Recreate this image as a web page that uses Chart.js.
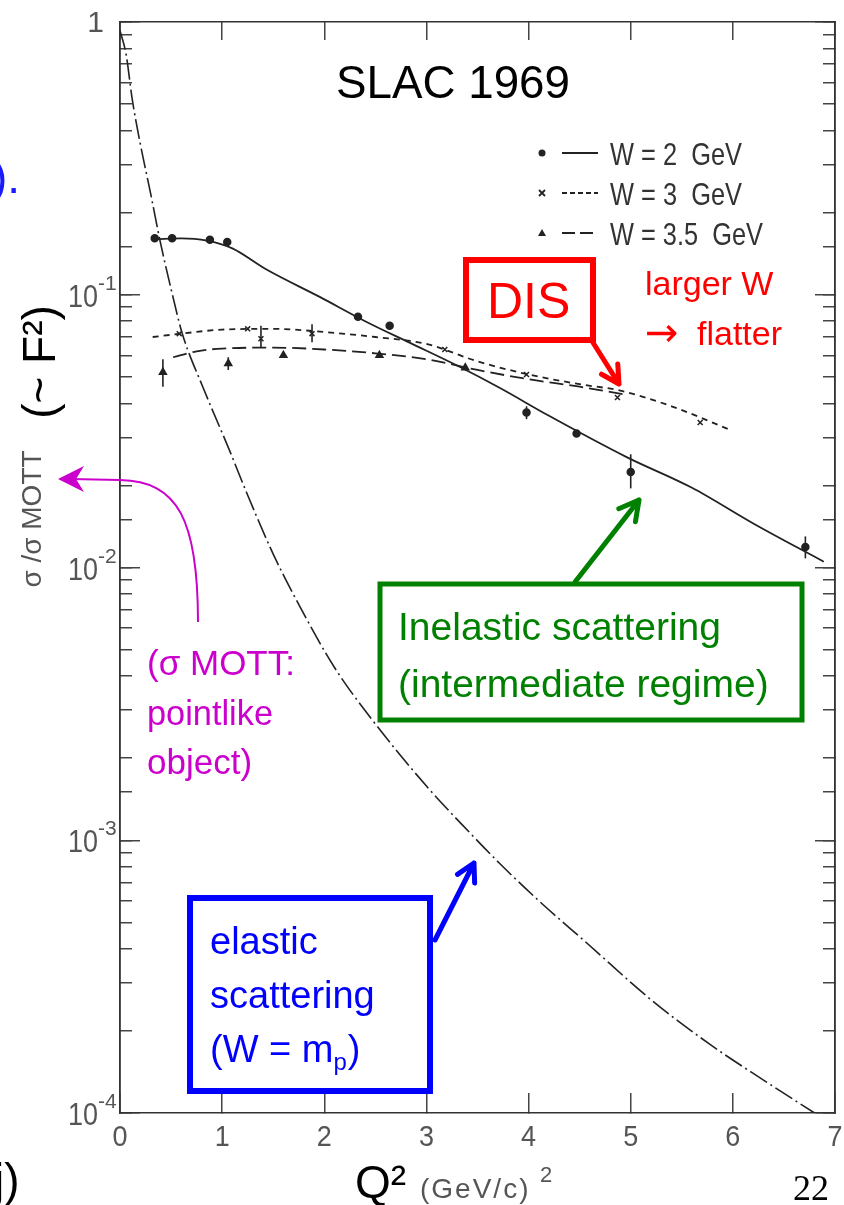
<!DOCTYPE html>
<html>
<head>
<meta charset="utf-8">
<script src="https://cdn.jsdelivr.net/npm/chart.js@4.4.1/dist/chart.umd.min.js"></script>
<style>
  html, body { margin: 0; padding: 0; background: #fff; }
  #wrap { width: 844px; height: 1205px; }
</style>
</head>
<body>
<div id="wrap"><canvas id="c" width="844" height="1205"></canvas></div>
<script>
// elastic e-p scattering (dash-dot curve)
const elasticQ2 = [0.0, 0.06, 0.12, 0.2, 0.3, 0.39, 0.5, 0.61, 0.81, 1.07, 1.24, 1.5, 1.76, 2.1, 2.47, 3.0, 3.42, 3.72, 4.1, 4.57, 5.2, 5.78, 6.3, 6.8];
const elasticRatio = [0.93, 0.76, 0.52, 0.355, 0.235, 0.159, 0.105, 0.072, 0.046, 0.027, 0.0188, 0.0112, 0.0072, 0.0043, 0.00276, 0.00158, 0.00107, 0.00082, 0.0006, 0.00042, 0.00026, 0.000178, 0.000132, 0.0001];

// W = 2 GeV
const w2CurveQ2 = [0.35, 0.6, 0.85, 1.1, 1.43, 1.96, 2.4, 2.84, 3.3, 3.72, 4.2, 4.96, 5.6, 6.2, 6.89];
const w2CurveRatio = [0.160, 0.161, 0.158, 0.148, 0.124, 0.098, 0.080, 0.0666, 0.055, 0.0455, 0.036, 0.0254, 0.0196, 0.0145, 0.0105];
const w2PointQ2 = [0.34, 0.51, 0.88, 1.05, 2.33, 2.64, 3.98, 4.47, 5.0, 6.71];
const w2PointRatio = [0.161, 0.161, 0.159, 0.156, 0.083, 0.077, 0.037, 0.031, 0.0224, 0.0119];

// W = 3 GeV
const w3CurveQ2 = [0.32, 0.6, 1.0, 1.5, 2.0, 2.5, 3.0, 3.5, 4.0, 4.5, 4.9, 5.4, 5.97];
const w3CurveRatio = [0.070, 0.072, 0.0745, 0.075, 0.073, 0.070, 0.066, 0.057, 0.051, 0.047, 0.0445, 0.039, 0.032];
const w3PointQ2 = [0.58, 1.25, 1.38, 1.88, 3.18, 3.98, 4.87, 5.68];
const w3PointRatio = [0.072, 0.075, 0.069, 0.072, 0.063, 0.051, 0.042, 0.034];

// W = 3.5 GeV
const w35CurveQ2 = [0.52, 0.75, 1.0, 1.5, 2.0, 2.5, 3.0, 3.5, 4.0, 4.5, 4.95];
const w35CurveRatio = [0.059, 0.062, 0.0635, 0.064, 0.063, 0.061, 0.058, 0.053, 0.049, 0.046, 0.043];
const w35PointQ2 = [0.42, 1.06, 1.6, 2.54, 3.38];
const w35PointRatio = [0.052, 0.056, 0.060, 0.060, 0.054];

// error bars
const errQ2 = [0.42, 1.06, 1.38, 1.88, 3.98, 5.0, 6.71];
const errLow = [0.046, 0.053, 0.064, 0.067, 0.035, 0.0195, 0.0108];
const errHigh = [0.058, 0.059, 0.077, 0.078, 0.039, 0.026, 0.013];

const xTickValues = [0, 1, 2, 3, 4, 5, 6, 7];
const legendLabels = ['W = 2  GeV', 'W = 3  GeV', 'W = 3.5  GeV'];

const pts = (xs, ys) => xs.map((x, i) => ({ x, y: ys[i] }));
const isDecade = (v) => { const l = Math.log10(v); return Math.abs(l - Math.round(l)) < 1e-6; };
const INK = '#222';
const SCAN = '#555';

const curve = (data, dash, width) => ({
  data, showLine: true, borderColor: INK, borderWidth: width, borderDash: dash,
  pointRadius: 0, cubicInterpolationMode: 'monotone', xAxisID: 'x', yAxisID: 'y',
});
const marks = (data, style, r) => ({
  data, showLine: false, pointStyle: style, pointRadius: r, backgroundColor: INK,
  borderColor: INK, borderWidth: 1.5, xAxisID: 'x', yAxisID: 'y',
});

const hideLabels = { display: false, autoSkip: false };
const gridStyle = (len) => ({ drawOnChartArea: false, drawTicks: true, tickLength: len, color: '#444', lineWidth: 1.5 });
const borderStyle = { display: true, color: '#333', width: 1.6 };
const onlyDecades = (s) => { s.ticks = s.ticks.filter(t => isDecade(t.value)); };

const errorBars = {
  id: 'errorBars',
  afterDatasetsDraw(chart) {
    const { ctx } = chart;
    const xs = chart.scales.x, ys = chart.scales.y;
    ctx.save();
    ctx.strokeStyle = INK;
    ctx.lineWidth = 1.6;
    errQ2.forEach((q, i) => {
      const px = xs.getPixelForValue(q);
      ctx.beginPath();
      ctx.moveTo(px, ys.getPixelForValue(errLow[i]));
      ctx.lineTo(px, ys.getPixelForValue(errHigh[i]));
      ctx.stroke();
    });
    ctx.restore();
  },
};

function arrow(ctx, x1, y1, x2, y2, color, width, head) {
  const a = Math.atan2(y2 - y1, x2 - x1);
  ctx.save();
  ctx.strokeStyle = color;
  ctx.lineWidth = width;
  ctx.lineCap = 'round';
  ctx.lineJoin = 'round';
  ctx.beginPath();
  ctx.moveTo(x1, y1);
  ctx.lineTo(x2, y2);
  ctx.moveTo(x2 - head * Math.cos(a - 0.5), y2 - head * Math.sin(a - 0.5));
  ctx.lineTo(x2, y2);
  ctx.lineTo(x2 - head * Math.cos(a + 0.5), y2 - head * Math.sin(a + 0.5));
  ctx.stroke();
  ctx.restore();
}

function text(ctx, str, x, y, font, color, maxW) {
  ctx.font = font;
  ctx.fillStyle = color;
  if (maxW) ctx.fillText(str, x, y, maxW); else ctx.fillText(str, x, y);
}

const decorations = {
  id: 'decorations',
  afterDraw(chart) {
    const { ctx } = chart;
    const xs = chart.scales.x, ys = chart.scales.y;
    ctx.save();
    ctx.textBaseline = 'alphabetic';

    // y tick labels (decades)
    ys.ticks.forEach(t => {
      if (!isDecade(t.value)) return;
      const e = Math.round(Math.log10(t.value));
      const py = ys.getPixelForValue(t.value);
      ctx.textAlign = 'right';
      if (e === 0) {
        text(ctx, '1', 104, py + 10, '30px "Liberation Sans"', SCAN);
      } else {
        text(ctx, '10', 98, py + 12, '32px "Liberation Sans"', SCAN, 30);
        ctx.textAlign = 'left';
        text(ctx, '-' + Math.abs(e), 98, py - 5, '21px "Liberation Sans"', SCAN);
      }
    });

    // x tick labels
    ctx.textAlign = 'center';
    ctx.textBaseline = 'middle';
    xTickValues.forEach(v => {
      text(ctx, String(v), xs.getPixelForValue(v), 1138, '30px "Liberation Sans"', SCAN, 15);
    });
    ctx.textBaseline = 'alphabetic';

    // axis titles
    ctx.textAlign = 'left';
    text(ctx, 'Q²', 355, 1198, '46px "Liberation Sans"', '#000');
    ctx.letterSpacing = '2px';
    text(ctx, '(GeV/c)', 420, 1198, '28px "Liberation Sans"', SCAN, 120);
    ctx.letterSpacing = '0px';
    text(ctx, '2', 540, 1182, '22px "Liberation Sans"', SCAN);
    ctx.save();
    ctx.translate(42, 362);
    ctx.rotate(-Math.PI / 2);
    ctx.textAlign = 'center';
    ctx.textBaseline = 'middle';
    text(ctx, '(~ F²)', 0, 0, '46px "Liberation Sans"', '#000');
    ctx.restore();
    ctx.save();
    ctx.translate(33, 519);
    ctx.rotate(-Math.PI / 2);
    ctx.textAlign = 'center';
    ctx.textBaseline = 'middle';
    text(ctx, 'σ /σ MOTT', 0, 0, '28px "Liberation Sans"', SCAN);
    ctx.restore();

    // title
    ctx.textAlign = 'left';
    text(ctx, 'SLAC 1969', 336, 98, '46px "Liberation Sans"', '#000', 234);

    // legend
    const rows = [153, 193, 233];
    ctx.strokeStyle = INK;
    ctx.fillStyle = INK;
    ctx.lineWidth = 1.8;
    ctx.beginPath(); ctx.arc(542, rows[0], 3.5, 0, Math.PI * 2); ctx.fill();
    ctx.beginPath(); ctx.moveTo(539, rows[1] - 3); ctx.lineTo(545, rows[1] + 3); ctx.moveTo(545, rows[1] - 3); ctx.lineTo(539, rows[1] + 3); ctx.stroke();
    ctx.beginPath(); ctx.moveTo(542, rows[2] - 4); ctx.lineTo(546, rows[2] + 3); ctx.lineTo(538, rows[2] + 3); ctx.closePath(); ctx.fill();
    [[], [5, 3], [13, 5]].forEach((d, i) => {
      ctx.setLineDash(d);
      ctx.beginPath(); ctx.moveTo(562, rows[i]); ctx.lineTo(598, rows[i]); ctx.stroke();
    });
    ctx.setLineDash([]);
    const legendW = [132, 132, 153];
    legendLabels.forEach((s, i) => text(ctx, s, 610, rows[i] + 12, '32px "Liberation Sans"', '#333', legendW[i]));

    // DIS annotation
    ctx.strokeStyle = '#ff0000';
    ctx.lineWidth = 6;
    ctx.strokeRect(466, 260, 127, 80);
    text(ctx, 'DIS', 487, 318, '50px "Liberation Sans"', '#ff0000', 86);
    arrow(ctx, 592, 341, 619, 384, '#ff0000', 5, 20);
    text(ctx, 'larger W', 645, 295, '34px "Liberation Sans"', '#ff0000', 130);
    text(ctx, '→', 645, 346, '40px "DejaVu Sans"', '#ff0000', 36);
    text(ctx, 'flatter', 697, 345, '34px "Liberation Sans"', '#ff0000', 86);

    // inelastic annotation
    ctx.strokeStyle = '#008000';
    ctx.lineWidth = 5;
    ctx.strokeRect(380, 584, 422, 136);
    arrow(ctx, 575, 582, 639, 500, '#008000', 5, 22);
    text(ctx, 'Inelastic scattering', 398, 640, '39px "Liberation Sans"', '#008000', 324);
    text(ctx, '(intermediate regime)', 398, 697, '39px "Liberation Sans"', '#008000', 372);

    // Mott annotation
    ctx.strokeStyle = '#cc00cc';
    ctx.fillStyle = '#cc00cc';
    ctx.lineWidth = 2;
    ctx.beginPath();
    ctx.moveTo(198, 622);
    ctx.bezierCurveTo(198, 520, 178, 481, 120, 480);
    ctx.lineTo(70, 479);
    ctx.stroke();
    ctx.beginPath();
    ctx.moveTo(58, 479); ctx.lineTo(84, 466); ctx.lineTo(76, 479); ctx.lineTo(84, 492); ctx.closePath();
    ctx.fill();
    text(ctx, '(σ MOTT:', 147, 675, '35px "Liberation Sans"', '#cc00cc', 153);
    text(ctx, 'pointlike', 147, 725, '35px "Liberation Sans"', '#cc00cc', 126);
    text(ctx, 'object)', 147, 774, '35px "Liberation Sans"', '#cc00cc');

    // elastic annotation
    ctx.strokeStyle = '#0000ff';
    ctx.lineWidth = 6;
    ctx.strokeRect(190, 898, 240, 193);
    arrow(ctx, 435, 940, 474, 863, '#0000ff', 5, 20);
    text(ctx, 'elastic', 210, 954, '38px "Liberation Sans"', '#0000ff');
    text(ctx, 'scattering', 210, 1008, '38px "Liberation Sans"', '#0000ff', 168);
    text(ctx, '(W = m', 210, 1062, '38px "Liberation Sans"', '#0000ff');
    ctx.font = '38px "Liberation Sans"';
    const wm = ctx.measureText('(W = m').width;
    text(ctx, 'p', 210 + wm, 1070, '24px "Liberation Sans"', '#0000ff');
    ctx.font = '24px "Liberation Sans"';
    const wp = ctx.measureText('p').width;
    text(ctx, ')', 210 + wm + wp + 1, 1062, '38px "Liberation Sans"', '#0000ff');

    // slide fragments
    text(ctx, ').', -8, 193, '46px "Liberation Sans"', '#1a1aff');
    text(ctx, 'j)', -6, 1196, '46px "Liberation Sans"', '#000');
    text(ctx, '22', 793, 1200, '36px "Liberation Serif"', '#000');

    ctx.restore();
  },
};

const chart = new Chart(document.getElementById('c'), {
  type: 'scatter',
  data: {
    datasets: [
      curve(pts(elasticQ2, elasticRatio), [20, 4, 2, 4], 1.6),
      curve(pts(w2CurveQ2, w2CurveRatio), [], 1.8),
      curve(pts(w3CurveQ2, w3CurveRatio), [6, 5], 1.8),
      curve(pts(w35CurveQ2, w35CurveRatio), [14, 6], 1.8),
      marks(pts(w2PointQ2, w2PointRatio), 'circle', 3.5),
      marks(pts(w3PointQ2, w3PointRatio), 'crossRot', 3.5),
      marks(pts(w35PointQ2, w35PointRatio), 'triangle', 4),
    ],
  },
  options: {
    responsive: false,
    animation: false,
    devicePixelRatio: 1,
    layout: { padding: { top: 22, right: 9, left: 0, bottom: 0 } },
    plugins: { legend: { display: false }, tooltip: { enabled: false } },
    scales: {
      x: {
        type: 'linear', position: 'bottom', min: 0, max: 7, weight: 0,
        ticks: { ...hideLabels, stepSize: 1 },
        grid: gridStyle(-20), border: borderStyle,
        afterFit: (s) => { s.height = 92; },
      },
      xTop: {
        type: 'linear', position: 'top', min: 0, max: 7,
        ticks: { ...hideLabels, stepSize: 1 },
        grid: gridStyle(-18), border: borderStyle,
        afterFit: (s) => { s.height = 0; },
      },
      yMajor: {
        type: 'logarithmic', position: 'left', min: 1e-4, max: 1, weight: 0,
        ticks: hideLabels, grid: gridStyle(-20), border: borderStyle,
        afterBuildTicks: onlyDecades,
        afterFit: (s) => { s.width = 0; },
      },
      y: {
        type: 'logarithmic', position: 'left', min: 1e-4, max: 1, weight: 1,
        ticks: hideLabels, grid: gridStyle(-12), border: borderStyle,
        afterFit: (s) => { s.width = 120; },
      },
      yRightMajor: {
        type: 'logarithmic', position: 'right', min: 1e-4, max: 1, weight: 0,
        ticks: hideLabels, grid: gridStyle(-20), border: borderStyle,
        afterBuildTicks: onlyDecades,
        afterFit: (s) => { s.width = 0; },
      },
      yRight: {
        type: 'logarithmic', position: 'right', min: 1e-4, max: 1, weight: 1,
        ticks: hideLabels, grid: gridStyle(-12), border: borderStyle,
        afterFit: (s) => { s.width = 0; },
      },
    },
  },
  plugins: [errorBars, decorations],
});
</script>
</body>
</html>
